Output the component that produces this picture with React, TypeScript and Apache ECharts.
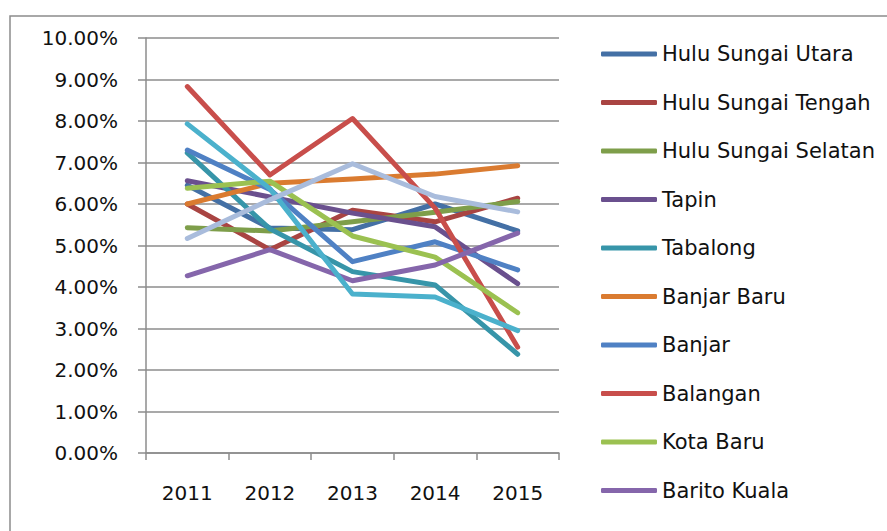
import React, { useEffect, useRef } from "react";
import * as echarts from "echarts";

const years = ["2011", "2012", "2013", "2014", "2015"];

const seriesNames = [
  "Hulu Sungai Utara",
  "Hulu Sungai Tengah",
  "Hulu Sungai Selatan",
  "Tapin",
  "Tabalong",
  "Banjar Baru",
  "Banjar",
  "Balangan",
  "Kota Baru",
  "Barito Kuala",
  "Tanah Bumbu",
  "Tanah Laut",
];

const huluSungaiUtara = [6.45, 5.42, 5.38, 6.0, 5.35];
const huluSungaiTengah = [6.0, 4.9, 5.85, 5.57, 6.14];
const huluSungaiSelatan = [5.43, 5.35, 5.57, 5.8, 6.06];
const tapin = [6.56, 6.17, 5.78, 5.45, 4.08];
const tabalong = [7.23, 5.4, 4.37, 4.05, 2.38];
const banjarBaru = [6.0, 6.5, 6.6, 6.72, 6.92];
const banjar = [7.3, 6.35, 4.61, 5.09, 4.41];
const balangan = [8.83, 6.7, 8.06, 5.9, 2.55];
const kotaBaru = [6.38, 6.55, 5.23, 4.72, 3.38];
const baritoKuala = [4.27, 4.9, 4.15, 4.53, 5.3];
const tanahBumbu = [7.93, 6.37, 3.83, 3.76, 2.95];
const tanahLaut = [5.17, 6.1, 6.97, 6.18, 5.81];

const seriesValues = [
  huluSungaiUtara,
  huluSungaiTengah,
  huluSungaiSelatan,
  tapin,
  tabalong,
  banjarBaru,
  banjar,
  balangan,
  kotaBaru,
  baritoKuala,
  tanahBumbu,
  tanahLaut,
];

const colors = [
  "#4470A5",
  "#A94442",
  "#7E9E4A",
  "#6A508E",
  "#3795A9",
  "#DA7B30",
  "#4F81C4",
  "#C84E4B",
  "#9BC151",
  "#8566AB",
  "#4BB1CC",
  "#A9BCDC",
];

const legendNames = seriesNames.slice(0, 10);

export default function App() {
  const ref = useRef<HTMLDivElement>(null);

  useEffect(() => {
    if (!ref.current) return;
    const chart = echarts.init(ref.current, null, { renderer: "svg" });
    chart.setOption({
      animation: false,
      backgroundColor: "#ffffff",
      textStyle: { fontFamily: "DejaVu Sans" },
      graphic: [
        {
          type: "rect",
          z: 0,
          silent: true,
          shape: { x: 10, y: 16, width: 920, height: 600 },
          style: { fill: "none", stroke: "#8c8c8c", lineWidth: 1.5 },
        },
      ],
      grid: { left: 146, right: 328, top: 38, bottom: 78, containLabel: false },
      legend: {
        orient: "vertical",
        left: 596,
        top: 37,
        data: legendNames,
        icon: "roundRect",
        itemWidth: 56,
        itemHeight: 5,
        itemGap: 24.5,
        textStyle: {
          fontFamily: "DejaVu Sans",
          fontSize: 21,
          lineHeight: 24,
          color: "#111111",
        },
      },
      xAxis: {
        type: "category",
        data: years,
        boundaryGap: true,
        axisLine: { show: true, lineStyle: { color: "#8c8c8c", width: 1.5 } },
        axisTick: { show: true, length: 7, lineStyle: { color: "#8c8c8c", width: 1.5 } },
        axisLabel: { fontSize: 20, color: "#111111", margin: 30, fontFamily: "DejaVu Sans" },
        splitLine: { show: false },
      },
      yAxis: {
        type: "value",
        min: 0,
        max: 10,
        interval: 1,
        axisLine: { show: true, lineStyle: { color: "#8c8c8c", width: 1.5 } },
        axisTick: { show: true, length: 8, lineStyle: { color: "#8c8c8c", width: 1.5 } },
        axisLabel: {
          fontSize: 20,
          color: "#111111",
          margin: 28,
          fontFamily: "DejaVu Sans",
          formatter: (v: number) => v.toFixed(2) + "%",
        },
        splitLine: { show: true, lineStyle: { color: "#8c8c8c", width: 1.5 } },
      },
      series: seriesNames.map((name, i) => ({
        name,
        type: "line",
        data: seriesValues[i],
        color: colors[i],
        symbol: "none",
        showSymbol: false,
        z: 3,
        lineStyle: { width: 5, color: colors[i], cap: "round", join: "round" },
      })),
    });
    return () => chart.dispose();
  }, []);

  return (
    <div
      ref={ref}
      style={{ position: "fixed", left: 0, top: 0, width: 887, height: 531 }}
    />
  );
}
